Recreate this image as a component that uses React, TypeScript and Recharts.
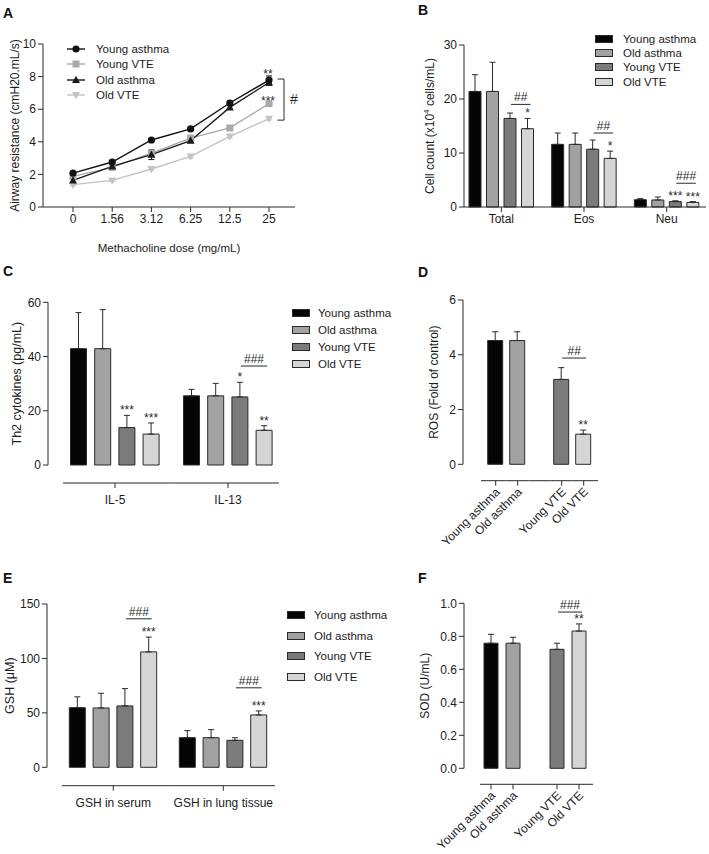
import React from 'react';
import {
  Bar,
  BarChart,
  Cell,
  ErrorBar,
  LabelList,
  Legend,
  Line,
  LineChart,
  ReferenceLine,
  XAxis,
  YAxis,
} from 'recharts';

const FONT = '"Liberation Sans", Arial, Helvetica, sans-serif';
const INK = '#2a2a2a';
const TEXT = '#1c1c1c';

// groups shared by the bar panels
const groupNames = ['Young asthma', 'Old asthma', 'Young VTE', 'Old VTE'];
const groupFills = ['#050505', '#a2a2a2', '#7b7b7b', '#d5d5d5'];
const groupKeys = ['ya', 'oa', 'yv', 'ov'];

// A - airway resistance vs methacholine
const doses = ['0', '1.56', '3.12', '6.25', '12.5', '25'];
const youngAsthmaA = [2.08, 2.76, 4.11, 4.79, 6.38, 7.79];
const youngVteA = [1.88, 2.43, 3.31, 4.23, 4.85, 6.34];
const oldAsthmaA = [1.63, 2.49, 3.21, 4.07, 6.11, 7.64];
const oldVteA = [1.37, 1.63, 2.33, 3.1, 4.33, 5.42];
const youngAsthmaSdA = [0.08, 0.1, 0.1, 0.1, 0.12, 0.25];
const youngVteSdA = [0.1, 0.1, 0.15, 0.1, 0.15, 0.12];
const oldAsthmaSdA = [0.1, 0.1, 0.3, 0.12, 0.1, 0.18];
const oldVteSdA = [0.06, 0.06, 0.08, 0.1, 0.08, 0.08];
const youngAsthmaStarsA = ['', '', '', '', '', '**'];
const youngVteStarsA = ['', '', '', '', '', '***'];

// B - BALF cell counts
const cellTypes = ['Total', 'Eos', 'Neu'];
const youngAsthmaB = [21.4, 11.6, 1.35];
const oldAsthmaB = [21.4, 11.6, 1.3];
const youngVteB = [16.4, 10.7, 1.0];
const oldVteB = [14.5, 9.0, 0.85];
const youngAsthmaSdB = [3.1, 2.1, 0.2];
const oldAsthmaSdB = [5.4, 2.1, 0.55];
const youngVteSdB = [1.0, 1.7, 0.15];
const oldVteSdB = [1.9, 1.35, 0.15];
const youngVteStarsB = ['', '', '***'];
const oldVteStarsB = ['*', '*', '***'];
const hashB = ['##', '##', '###'];
const hashLevelB = [19, 13.7, 4.4];

// C - Th2 cytokines
const cytokines = ['IL-5', 'IL-13'];
const youngAsthmaC = [42.9, 25.5];
const oldAsthmaC = [42.9, 25.5];
const youngVteC = [13.8, 25.1];
const oldVteC = [11.4, 12.8];
const youngAsthmaSdC = [13.3, 2.4];
const oldAsthmaSdC = [14.4, 4.6];
const youngVteSdC = [4.5, 5.4];
const oldVteSdC = [4.1, 1.7];
const youngVteStarsC = ['***', '*'];
const oldVteStarsC = ['***', '**'];
const hashC = ['', '###'];
const hashLevelC = [null, 36.5];

// D - ROS
const rosGroups = ['Young asthma', 'Old asthma', '', 'Young VTE', 'Old VTE'];
const rosValues = [4.52, 4.52, null, 3.1, 1.1];
const rosSd = [0.32, 0.32, null, 0.43, 0.15];
const rosStars = ['', '', '', '', '**'];
const rosHash = ['', '', '', '', '##'];
const rosHashLevel = [null, null, null, null, 3.88];

// E - GSH
const gshSites = ['GSH in serum', 'GSH in lung tissue'];
const youngAsthmaE = [54.8, 27.2];
const oldAsthmaE = [54.5, 27.2];
const youngVteE = [56.4, 24.8];
const oldVteE = [106, 48.1];
const youngAsthmaSdE = [9.9, 6.5];
const oldAsthmaSdE = [13.5, 7.4];
const youngVteSdE = [15.9, 2.4];
const oldVteSdE = [13.6, 3.7];
const youngVteStarsE = ['', ''];
const oldVteStarsE = ['***', '***'];
const hashE = ['###', '###'];
const hashLevelE = [136.4, 73];

// F - SOD
const sodGroups = ['Young asthma', 'Old asthma', '', 'Young VTE', 'Old VTE'];
const sodValues = [0.758, 0.758, null, 0.721, 0.832];
const sodSd = [0.054, 0.036, null, 0.037, 0.043];
const sodStars = ['', '', '', '', '**'];
const sodHash = ['', '', '', '', '###'];
const sodHashLevel = [null, null, null, null, 0.947];

const rowsA = doses.map((dose, i) => ({
  dose,
  ya: youngAsthmaA[i],
  yv: youngVteA[i],
  oa: oldAsthmaA[i],
  ov: oldVteA[i],
  yaSd: youngAsthmaSdA[i],
  yvSd: youngVteSdA[i],
  oaSd: oldAsthmaSdA[i],
  ovSd: oldVteSdA[i],
  yaStar: youngAsthmaStarsA[i],
  yvStar: youngVteStarsA[i],
}));

const lineSeries = [
  { key: 'ya', name: 'Young asthma', color: '#111111', marker: 'circle', star: 'yaStar', starDy: -2 },
  { key: 'yv', name: 'Young VTE', color: '#a9a9a9', marker: 'square', star: 'yvStar', starDy: 1 },
  { key: 'oa', name: 'Old asthma', color: '#1b1b1b', marker: 'up', star: '', starDy: 0 },
  { key: 'ov', name: 'Old VTE', color: '#c3c3c3', marker: 'down', star: '', starDy: 0 },
];
const lineDrawOrder = ['ov', 'yv', 'oa', 'ya'];

const toRows = (cats: string[], vals: number[][], sds: number[][]) =>
  cats.map((name, i) => {
    const row: any = { name };
    groupKeys.forEach((k, g) => {
      row[k] = vals[g][i];
      row[`${k}Sd`] = [0, sds[g][i]];
    });
    return row;
  });

const marker = (shape: string, color: string, cx: number, cy: number) => {
  if (shape === 'circle') return <circle cx={cx} cy={cy} r={3.6} fill={color} />;
  if (shape === 'square') return <rect x={cx - 3.5} y={cy - 3.5} width={7} height={7} fill={color} />;
  if (shape === 'up') return <path d={`M${cx} ${cy - 4.3}L${cx + 4} ${cy + 3}L${cx - 4} ${cy + 3}Z`} fill={color} />;
  return <path d={`M${cx} ${cy + 4.3}L${cx + 4} ${cy - 3}L${cx - 4} ${cy - 3}Z`} fill={color} />;
};

// rotated y axis title, drawn inside the axis box
const vTitle = (content: React.ReactNode, dx: number, size = 12) => (p: any) => {
  const vb = p.viewBox;
  const x = vb.x + dx;
  const y = vb.y + vb.height / 2;
  return (
    <text x={x} y={y} transform={`rotate(-90 ${x} ${y})`} textAnchor="middle" dominantBaseline="central" fontSize={size} fill={TEXT}>
      {content}
    </text>
  );
};

const lineStar = (dy: number) => (p: any) => {
  if (!p.value) return null;
  const x = p.viewBox?.x ?? p.x;
  const y = p.viewBox?.y ?? p.y;
  return (
    <text x={x - 1} y={y + dy} textAnchor="middle" fontSize={12} fill={INK}>
      {p.value}
    </text>
  );
};

// stars over the error cap and the ## line between two bars;
// the label value is the category name, used to find the row
const barNotes = (
  names: string[],
  vals: (number | null)[],
  sds: (number | null)[],
  stars: string[],
  hashes: string[],
  levels: (number | null)[],
  step: number,
) => (p: any) => {
  const i = names.indexOf(p.value);
  const v = i < 0 ? null : vals[i];
  const vb = p.viewBox && p.viewBox.width !== undefined ? p.viewBox : p;
  if (v == null || !vb.height) return null;
  const ppu = vb.height / v;
  const base = vb.y + vb.height;
  const cx = vb.x + vb.width / 2;
  const capY = base - (v + (sds[i] ?? 0)) * ppu;
  const hash = hashes[i];
  const lv = levels[i];
  const hy = lv == null ? 0 : base - lv * ppu;
  return (
    <g>
      {stars[i] ? (
        <text x={cx} y={capY - 1} textAnchor="middle" fontSize={12} fill={INK}>
          {stars[i]}
        </text>
      ) : null}
      {hash && lv != null ? (
        <g>
          <line x1={cx - step + 1} x2={cx + 3} y1={hy} y2={hy} stroke={INK} />
          <text x={cx - step / 2 + 2} y={hy - 3} textAnchor="middle" fontSize={12} fill={INK}>
            {hash}
          </text>
        </g>
      ) : null}
    </g>
  );
};

// detached category axis (Prism style offset x axis)
const offsetTick = (drop: number, half: number, trimL: number, trimR: number, rotate = false) => (p: any) => {
  const { x, y, payload, index, visibleTicksCount } = p;
  const ly = y + drop;
  const x1 = x - half + (index === 0 ? trimL : 0);
  const x2 = x + half - (index === visibleTicksCount - 1 ? trimR : 0);
  const label = payload?.value;
  return (
    <g>
      <line x1={x1} x2={x2} y1={ly} y2={ly} stroke={INK} />
      {label ? <line x1={x} x2={x} y1={ly} y2={ly + 5} stroke={INK} /> : null}
      {label && rotate ? (
        <text x={x + 5} y={ly + 12} transform={`rotate(-45 ${x + 5} ${ly + 12})`} textAnchor="end" fontSize={12} fill={TEXT}>
          {label}
        </text>
      ) : null}
      {label && !rotate ? (
        <text x={x} y={ly + 21} textAnchor="middle" fontSize={12} fill={TEXT}>
          {label}
        </text>
      ) : null}
    </g>
  );
};

const BarKey = ({ rowH, gap }: { rowH: number; gap: number }) => (
  <div style={{ fontFamily: FONT, fontSize: 11.5, color: TEXT }}>
    {groupNames.map((n, i) => (
      <div key={n} style={{ display: 'flex', alignItems: 'center', height: rowH, whiteSpace: 'nowrap' }}>
        <span
          style={{
            display: 'inline-block',
            width: 18,
            height: 8,
            background: groupFills[i],
            border: `1px solid ${INK}`,
            boxSizing: 'border-box',
            marginRight: gap,
          }}
        />
        {n}
      </div>
    ))}
  </div>
);

const LineKey = () => (
  <div style={{ fontFamily: FONT, fontSize: 11.5, color: TEXT }}>
    {lineSeries.map((s) => (
      <div key={s.key} style={{ display: 'flex', alignItems: 'center', height: 15.5, whiteSpace: 'nowrap' }}>
        <svg width={18} height={10} style={{ marginRight: 11 }}>
          <line x1={0} x2={18} y1={5} y2={5} stroke={s.color} strokeWidth={1.4} />
          {marker(s.marker, s.color, 9, 5)}
        </svg>
        {s.name}
      </div>
    ))}
  </div>
);

const PanelTag = ({ tag, left, top }: { tag: string; left: number; top: number }) => (
  <div style={{ position: 'absolute', left, top, fontSize: 14, fontWeight: 700, lineHeight: '14px', color: '#111' }}>{tag}</div>
);

const AirwayPanel = () => (
  <LineChart width={300} height={260} data={rowsA} margin={{ top: 44, right: 5, left: 0, bottom: 8 }}>
    <XAxis
      dataKey="dose"
      scale="point"
      padding={{ left: 30, right: 26 }}
      interval={0}
      height={45}
      tickSize={5}
      stroke={INK}
      tick={{ fontSize: 12, fill: TEXT }}
      label={{ value: 'Methacholine dose (mg/mL)', position: 'insideBottom', offset: 0, fontSize: 11.5, fill: TEXT }}
    />
    <YAxis
      width={43}
      domain={[0, 10]}
      ticks={[0, 2, 4, 6, 8, 10]}
      tickSize={5}
      stroke={INK}
      tick={{ fontSize: 12, fill: TEXT }}
      label={vTitle('Airway resistance (cmH20.mL/s)', 15)}
    />
    <Legend content={() => <LineKey />} layout="vertical" align="center" verticalAlign="middle" wrapperStyle={{ left: 67, top: 41 }} />
    {lineDrawOrder.map((key) => {
      const s = lineSeries.find((l) => l.key === key)!;
      return (
        <Line
          key={s.key}
          dataKey={s.key}
          name={s.name}
          stroke={s.color}
          strokeWidth={1.4}
          dot={(p: any) => <g key={`${s.key}-${p.index}`}>{marker(s.marker, s.color, p.cx, p.cy)}</g>}
          activeDot={false}
          isAnimationActive={false}
        >
          <ErrorBar dataKey={`${s.key}Sd`} width={3} stroke={s.color} strokeWidth={1} isAnimationActive={false} />
          {s.star ? <LabelList dataKey={s.star} content={lineStar(s.starDy)} /> : null}
        </Line>
      );
    })}
    <ReferenceLine
      segment={[
        { x: '25', y: youngAsthmaA[5] },
        { x: '25', y: oldVteA[5] },
      ]}
      ifOverflow="visible"
      shape={(p: any) => (
        <g>
          <path d={`M${p.x1 + 8.5} ${p.y1 - 1}H${p.x1 + 15}V${p.y2 + 1.5}H${p.x1 + 8.5}`} fill="none" stroke={INK} />
          <text x={p.x1 + 21} y={(p.y1 + p.y2) / 2 + 5} fontSize={14} fill={INK}>
            #
          </text>
        </g>
      )}
    />
  </LineChart>
);

type GroupedProps = {
  cats: string[];
  vals: number[][];
  sds: number[][];
  starsYv: string[];
  starsOv: string[];
  hashes: string[];
  hashLevels: (number | null)[];
  width: number;
  height: number;
  margin: { top: number; right: number; left: number; bottom: number };
  yWidth: number;
  yMax: number;
  yTicks: number[];
  xHeight: number;
  padding: { left: number; right: number };
  barSize: number;
  barGap: number;
  offsetAxis?: { drop: number; half: number; trimL: number; trimR: number };
  title: React.ReactNode;
  titleX: number;
  titleSize?: number;
  legend: { left: number; top: number; rowH: number; gap: number };
};

const GroupedPanel = (props: GroupedProps) => {
  const rows = toRows(props.cats, props.vals, props.sds);
  const oa = props.offsetAxis;
  return (
    <BarChart width={props.width} height={props.height} data={rows} margin={props.margin} barGap={props.barGap}>
      {oa ? (
        <XAxis
          dataKey="name"
          interval={0}
          height={props.xHeight}
          padding={props.padding}
          axisLine={false}
          tickLine={false}
          tickSize={0}
          tickMargin={0}
          tick={offsetTick(oa.drop, oa.half, oa.trimL, oa.trimR)}
        />
      ) : (
        <XAxis
          dataKey="name"
          interval={0}
          height={props.xHeight}
          padding={props.padding}
          tickSize={5}
          stroke={INK}
          tick={{ fontSize: 12, fill: TEXT }}
        />
      )}
      <YAxis
        width={props.yWidth}
        domain={[0, props.yMax]}
        ticks={props.yTicks}
        tickSize={5}
        stroke={INK}
        tick={{ fontSize: 12, fill: TEXT }}
        label={vTitle(props.title, props.titleX, props.titleSize)}
      />
      <Legend
        content={() => <BarKey rowH={props.legend.rowH} gap={props.legend.gap} />}
        layout="vertical"
        align="center"
        verticalAlign="middle"
        wrapperStyle={{ left: props.legend.left, top: props.legend.top }}
      />
      {groupKeys.map((k, g) => (
        <Bar
          key={k}
          dataKey={k}
          name={groupNames[g]}
          fill={groupFills[g]}
          stroke={INK}
          strokeWidth={1}
          barSize={props.barSize}
          isAnimationActive={false}
        >
          <ErrorBar dataKey={`${k}Sd`} width={3} stroke={INK} strokeWidth={1} isAnimationActive={false} />
          {g === 2 ? (
            <LabelList dataKey="name" content={barNotes(props.cats, props.vals[2], props.sds[2], props.starsYv, [], [], 0)} />
          ) : null}
          {g === 3 ? (
            <LabelList
              dataKey="name"
              content={barNotes(
                props.cats,
                props.vals[3],
                props.sds[3],
                props.starsOv,
                props.hashes,
                props.hashLevels,
                props.barSize + props.barGap,
              )}
            />
          ) : null}
        </Bar>
      ))}
    </BarChart>
  );
};

type SingleProps = {
  names: string[];
  vals: (number | null)[];
  sds: (number | null)[];
  stars: string[];
  hashes: string[];
  hashLevels: (number | null)[];
  width: number;
  height: number;
  margin: { top: number; right: number; left: number; bottom: number };
  yWidth: number;
  yMax: number;
  yTicks: number[];
  tickFmt?: (v: number) => string;
  xHeight: number;
  padding: { left: number; right: number };
  barSize: number;
  band: number;
  drop: number;
  trimL: number;
  trimR: number;
  title: React.ReactNode;
  titleX: number;
};

const SinglePanel = (props: SingleProps) => {
  const rows = props.names.map((name, i) => ({
    name,
    v: props.vals[i],
    sd: props.sds[i] == null ? null : [0, props.sds[i]],
  }));
  return (
    <BarChart width={props.width} height={props.height} data={rows} margin={props.margin}>
      <XAxis
        dataKey="name"
        interval={0}
        height={props.xHeight}
        padding={props.padding}
        axisLine={false}
        tickLine={false}
        tickSize={0}
        tickMargin={0}
        tick={offsetTick(props.drop, props.band / 2, props.trimL, props.trimR, true)}
      />
      <YAxis
        width={props.yWidth}
        domain={[0, props.yMax]}
        ticks={props.yTicks}
        tickFormatter={props.tickFmt}
        tickSize={5}
        stroke={INK}
        tick={{ fontSize: 12, fill: TEXT }}
        label={vTitle(props.title, props.titleX)}
      />
      <Bar dataKey="v" stroke={INK} strokeWidth={1} barSize={props.barSize} isAnimationActive={false}>
        {rows.map((r) => (
          <Cell key={r.name || 'gap'} fill={groupFills[groupNames.indexOf(r.name)] ?? 'none'} />
        ))}
        <ErrorBar dataKey="sd" width={3} stroke={INK} strokeWidth={1} isAnimationActive={false} />
        <LabelList
          dataKey="name"
          content={barNotes(props.names, props.vals, props.sds, props.stars, props.hashes, props.hashLevels, props.band)}
        />
      </Bar>
    </BarChart>
  );
};

export default function App() {
  return (
    <div
      style={{
        position: 'absolute',
        left: 0,
        top: 0,
        width: 709,
        height: 854,
        background: '#fff',
        fontFamily: FONT,
        overflow: 'hidden',
      }}
    >
      <div style={{ position: 'absolute', left: 0, top: 0 }}>
        <AirwayPanel />
      </div>

      <div style={{ position: 'absolute', left: 360, top: 0 }}>
        <GroupedPanel
          cats={cellTypes}
          vals={[youngAsthmaB, oldAsthmaB, youngVteB, oldVteB]}
          sds={[youngAsthmaSdB, oldAsthmaSdB, youngVteSdB, oldVteSdB]}
          starsYv={youngVteStarsB}
          starsOv={oldVteStarsB}
          hashes={hashB}
          hashLevels={hashLevelB}
          width={349}
          height={260}
          margin={{ top: 45, right: 3, left: 0, bottom: 23 }}
          yWidth={104}
          yMax={30}
          yTicks={[0, 10, 20, 30]}
          xHeight={30}
          padding={{ left: -4, right: -2 }}
          barSize={12}
          barGap={5.5}
          title={
            <>
              Cell count (x10
              <tspan dy={-4} fontSize={8}>
                4
              </tspan>
              <tspan dy={4}> cells/mL)</tspan>
            </>
          }
          titleX={70}
          legend={{ left: 235, top: 32, rowH: 14.2, gap: 10 }}
        />
      </div>

      <div style={{ position: 'absolute', left: 0, top: 270 }}>
        <GroupedPanel
          cats={cytokines}
          vals={[youngAsthmaC, oldAsthmaC, youngVteC, oldVteC]}
          sds={[youngAsthmaSdC, oldAsthmaSdC, youngVteSdC, oldVteSdC]}
          starsYv={youngVteStarsC}
          starsOv={oldVteStarsC}
          hashes={hashC}
          hashLevels={hashLevelC}
          width={400}
          height={260}
          margin={{ top: 32.3, right: 105, left: 0, bottom: 20 }}
          yWidth={48}
          yMax={60}
          yTicks={[0, 20, 40, 60]}
          xHeight={45}
          padding={{ left: 10.5, right: 10.5 }}
          barSize={16}
          barGap={8.2}
          offsetAxis={{ drop: 18, half: 56.5, trimL: 4.5, trimR: 5.5 }}
          title="Th2 cytokines (pg/mL)"
          titleX={17}
          titleSize={12.5}
          legend={{ left: 292, top: 34.5, rowH: 17, gap: 8 }}
        />
      </div>

      <div style={{ position: 'absolute', left: 360, top: 270 }}>
        <SinglePanel
          names={rosGroups}
          vals={rosValues}
          sds={rosSd}
          stars={rosStars}
          hashes={rosHash}
          hashLevels={rosHashLevel}
          width={349}
          height={290}
          margin={{ top: 30, right: 109, left: 0, bottom: 5.7 }}
          yWidth={103}
          yMax={6}
          yTicks={[0, 2, 4, 6]}
          xHeight={90}
          padding={{ left: 21.7, right: 5.3 }}
          barSize={15}
          band={22}
          drop={16.4}
          trimL={-3.7}
          trimR={-3.3}
          title="ROS (Fold of control)"
          titleX={74}
        />
      </div>

      <div style={{ position: 'absolute', left: 0, top: 560 }}>
        <GroupedPanel
          cats={gshSites}
          vals={[youngAsthmaE, oldAsthmaE, youngVteE, oldVteE]}
          sds={[youngAsthmaSdE, oldAsthmaSdE, youngVteSdE, oldVteSdE]}
          starsYv={youngVteStarsE}
          starsOv={oldVteStarsE}
          hashes={hashE}
          hashLevels={hashLevelE}
          width={400}
          height={260}
          margin={{ top: 44, right: 110, left: 0, bottom: 7.7 }}
          yWidth={47}
          yMax={150}
          yTicks={[0, 50, 100, 150]}
          xHeight={45}
          padding={{ left: 11.3, right: 11.7 }}
          barSize={16}
          barGap={7.8}
          offsetAxis={{ drop: 18.4, half: 55, trimL: 3.7, trimR: 3.3 }}
          title="GSH (μM)"
          titleX={10}
          titleSize={12.5}
          legend={{ left: 287, top: 44.5, rowH: 20.7, gap: 9 }}
        />
      </div>

      <div style={{ position: 'absolute', left: 360, top: 560 }}>
        <SinglePanel
          names={sodGroups}
          vals={sodValues}
          sds={sodSd}
          stars={sodStars}
          hashes={sodHash}
          hashLevels={sodHashLevel}
          width={349}
          height={294}
          margin={{ top: 43.3, right: 109, left: 0, bottom: 5.7 }}
          yWidth={104}
          yMax={1}
          yTicks={[0, 0.2, 0.4, 0.6, 0.8, 1.0]}
          tickFmt={(v: number) => v.toFixed(1)}
          xHeight={80}
          padding={{ left: 16, right: 10 }}
          barSize={14}
          band={22}
          drop={16}
          trimL={0}
          trimR={-3}
          title="SOD (U/mL)"
          titleX={65}
        />
      </div>

      <PanelTag tag="A" left={3} top={6} />
      <PanelTag tag="B" left={418} top={3} />
      <PanelTag tag="C" left={3} top={264} />
      <PanelTag tag="D" left={418} top={265} />
      <PanelTag tag="E" left={3} top={571} />
      <PanelTag tag="F" left={418} top={571} />
    </div>
  );
}
